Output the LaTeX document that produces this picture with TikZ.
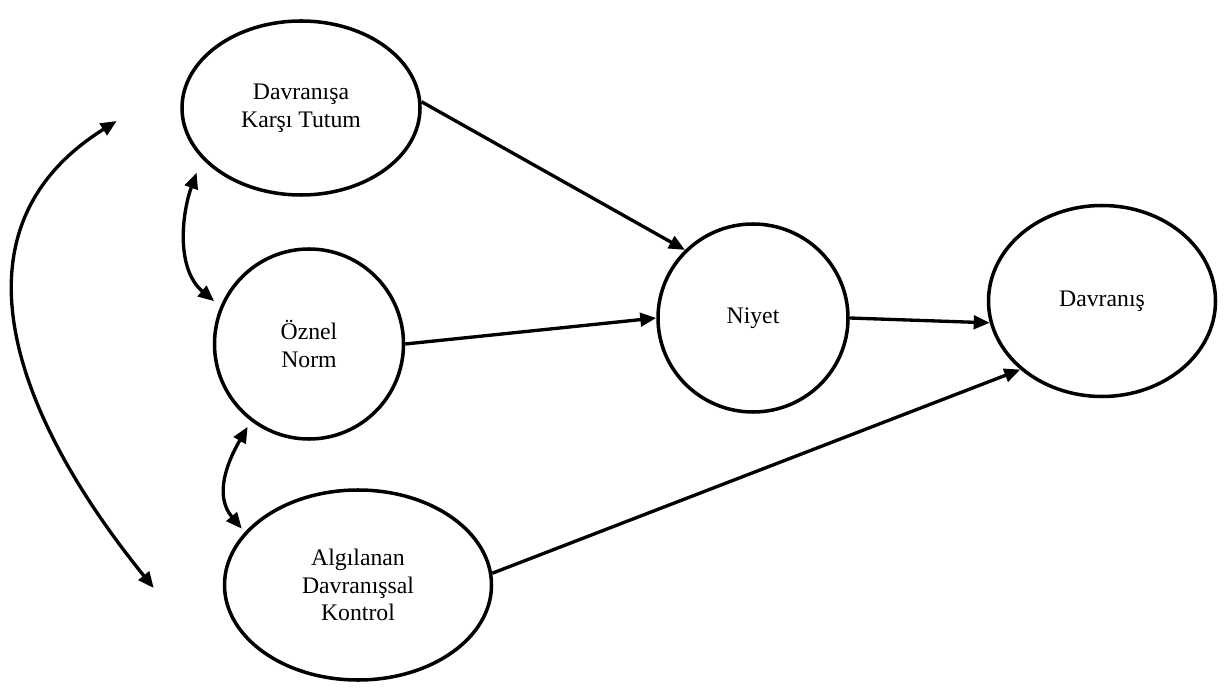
\documentclass[tikz,border=0pt]{standalone}
\usepackage{fontspec}
\setmainfont{Liberation Serif}
\usepackage{tikz}
\usetikzlibrary{shapes.geometric,arrows.meta}

\begin{document}
\begin{tikzpicture}[
  oval/.style={draw, ellipse, line width=2pt, inner sep=0pt, align=center, font=\fontsize{13.5}{15.8}\selectfont},
  link/.style={->, line width=1.9pt},
  both/.style={<->, line width=1.9pt},
  >={Triangle[length=3.2mm,width=2.7mm]}
]
\useasboundingbox (0,0) rectangle (24.6,-13.78);
\node[oval, minimum width=4.76cm, minimum height=3.48cm] (tutum) at (6.02,-2.16) {Davranışa\\Karşı Tutum};
\node[oval, minimum width=3.78cm, minimum height=3.80cm] (norm) at (6.18,-6.88) {Öznel\\Norm};
\node[oval, minimum width=5.34cm, minimum height=3.80cm] (kontrol) at (7.16,-11.70) {Algılanan\\Davranışsal\\Kontrol};
\node[oval, minimum width=3.80cm, minimum height=3.76cm] (niyet) at (15.06,-6.36) {Niyet};
\node[oval, minimum width=4.54cm, minimum height=3.82cm] (davranis) at (22.04,-6.02) {Davranış};
% free ends of the long correlation arc
\coordinate (ucA) at ([xshift=-1.27cm, yshift=-0.26cm]tutum.west);
\coordinate (ucB) at ([xshift=-1.38cm, yshift=-0.06cm]kontrol.west);
\draw[link] (tutum.3) -- (niyet.135);
\draw[link] (norm.east) -- (niyet.west);
\draw[link] (niyet.east) -- (davranis.191);
\draw[link] (kontrol.5) -- (davranis.220);
\draw[both, shorten <=0.3cm, shorten >=0.16cm] (tutum.207) to[out=250, in=140] (norm.157);
\draw[both, shorten <=0.13cm, shorten >=0.09cm] (norm.233) to[out=240, in=130, looseness=1.1] (kontrol.155);
\draw[both] (ucA) to[out=212, in=129, looseness=1.15] (ucB);
\end{tikzpicture}
\end{document}
